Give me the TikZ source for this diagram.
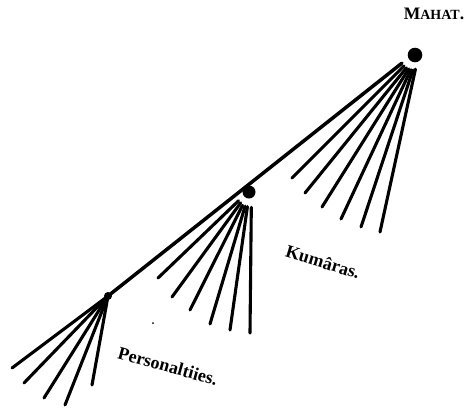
\documentclass[tikz,border=0pt]{standalone}
\usepackage{fontspec}
\setmainfont{Liberation Serif}
\begin{document}
\begin{tikzpicture}[x=1pt,y=-1pt,
  ray/.style={line width=3.1pt,line cap=round},
  mainline/.style={line width=3.5pt,line cap=round},
  bigdot/.style={circle,fill=black,inner sep=0pt,minimum size=#1},
  lab/.style={font=\bfseries\fontsize{18}{20}\selectfont,inner sep=0pt}]
\useasboundingbox (0,0) rectangle (469,408);
% centres
\node[bigdot=14.6pt] (mahat) at (415,55) {};
\node[bigdot=13pt] (kum) at (249,192) {};
\node[bigdot=8pt] (pers) at (108,296) {};
% free ends
\coordinate (m2) at (292,178);
\coordinate (m3) at (305,193);
\coordinate (m4) at (322,207);
\coordinate (m5) at (341,219);
\coordinate (m6) at (361,227);
\coordinate (m7) at (380,232);
\coordinate (k1) at (158,278);
\coordinate (k2) at (172,297);
\coordinate (k3) at (190,310);
\coordinate (k4) at (210,324);
\coordinate (k5) at (230,330);
\coordinate (k6) at (250,333);
\coordinate (p1) at (12,368);
\coordinate (p2) at (24,383);
\coordinate (p3) at (44,398);
\coordinate (p4) at (65,405);
\coordinate (p5) at (92,385);
% main line
\draw[mainline,shorten <=8pt] (mahat.205) -- (pers.center);
% Mahat rays
\draw[ray,shorten <=8pt] (mahat.225) -- (m2);
\draw[ray,shorten <=8pt] (mahat.242) -- (m3);
\draw[ray,shorten <=8pt] (mahat.254) -- (m4);
\draw[ray,shorten <=8pt] (mahat.264) -- (m5);
\draw[ray,shorten <=8pt] (mahat.273) -- (m6);
\draw[ray,shorten <=7pt] (mahat.285) -- (m7);
% Kumara rays
\draw[ray,shorten <=7pt] (kum.216) -- (k1);
\draw[ray,shorten <=7pt] (kum.231) -- (k2);
\draw[ray,shorten <=8pt] (kum.245) -- (k3);
\draw[ray,shorten <=8pt] (kum.256) -- (k4);
\draw[ray,shorten <=8pt] (kum.266) -- (k5);
\draw[ray,shorten <=9pt] (kum.291) -- (k6);
% Personality rays
\draw[ray] (pers.center) -- (p1);
\draw[ray] (pers.center) -- (p2);
\draw[ray] (pers.center) -- (p3);
\draw[ray] (pers.center) -- (p4);
\draw[ray] (pers.center) -- (p5);
% specks
\fill (153,323) circle (1pt);
% labels
\node[font=\bfseries,inner sep=0pt] (tmahat) at (434,14)
  {\fontsize{17.5}{19}\selectfont M\fontsize{14}{16}\selectfont AHAT\fontsize{17.5}{19}\selectfont.};
\node[lab,rotate=-17] (tkum) at (323,262) {Kumâras.};
\node[lab,rotate=-15.5] (tpers) at (168,366) {Personaltiies.};
\end{tikzpicture}
\end{document}
